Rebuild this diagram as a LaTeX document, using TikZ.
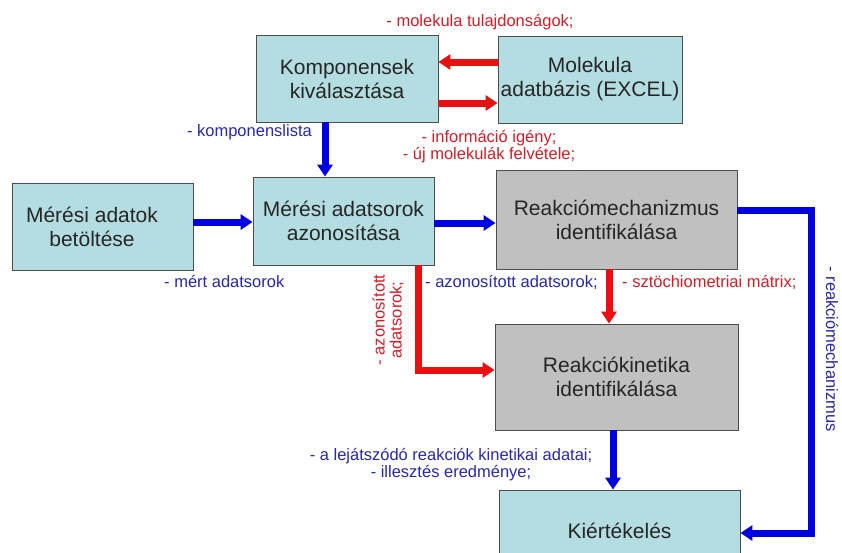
\documentclass[tikz,border=0pt]{standalone}
\usepackage{fontspec}
\setmainfont{Liberation Sans}
\usetikzlibrary{arrows.meta}
\definecolor{boxblue}{RGB}{180,221,225}
\definecolor{boxgray}{RGB}{192,192,192}
\definecolor{arrred}{RGB}{232,16,16}
\definecolor{arrblue}{RGB}{0,0,224}
\definecolor{txtred}{RGB}{214,30,40}
\definecolor{txtblue}{RGB}{40,40,176}
\tikzset{
  boxbase/.style={draw=black!70, line width=0.8pt, inner sep=0pt, align=center,
    font=\fontsize{21}{24}\selectfont, text=black!85},
  bluebox/.style={boxbase, fill=boxblue},
  graybox/.style={boxbase, fill=boxgray},
  flowred/.style={draw=arrred, line width=7pt, -{Triangle[width=15pt,length=12pt]}},
  flowblue/.style={draw=arrblue, line width=7pt, -{Triangle[width=15pt,length=12pt]}},
  lbl/.style={inner sep=0pt, align=center, font=\fontsize{16.5}{17}\selectfont},
  lblred/.style={lbl, text=txtred},
  lblblue/.style={lbl, text=txtblue}
}
\begin{document}
\begin{tikzpicture}[x=1pt,y=-1pt]
\clip (0,0) rectangle (842,552);
\fill[white] (0,0) rectangle (842,552);

% boxes
\node[bluebox, minimum width=182pt, minimum height=87pt] (komp) at (347,78.5) {Komponensek\\kiválasztása};
\node[bluebox, minimum width=184pt, minimum height=87pt] (mol) at (590,79.5) {Molekula\\adatbázis (EXCEL)};
\node[bluebox, minimum width=181pt, minimum height=87pt] (load) at (102.5,226.5) {};
\node[boxbase, draw=none, fill=none] (loadtxt) at (92,226.5) {Mérési adatok\\betöltése};
\node[bluebox, minimum width=181pt, minimum height=88pt] (ident) at (343.5,221) {Mérési adatsorok\\azonosítása};
\node[graybox, minimum width=241pt, minimum height=99pt] (mech) at (616.5,219.5) {Reakciómechanizmus\\identifikálása};
\node[graybox, minimum width=243pt, minimum height=106pt] (kin) at (616.5,377) {Reakciókinetika\\identifikálása};
\node[bluebox, minimum width=241pt, minimum height=82pt] (kiert) at (619.5,531) {Kiértékelés};

% connectors
\coordinate (c1) at (418,370);
\coordinate (c2) at (811,210);
\coordinate (c3) at (811,533);
\draw[flowred] (mol.west |- 0,62) -- (komp.east |- 0,62);
\draw[flowred] (komp.east |- 0,103) -- (mol.west |- 0,103);
\draw[flowblue] (komp.south -| 325,0) -- (ident.north -| 325,0);
\draw[flowblue] (load.east |- 0,222) -- (ident.west |- 0,222);
\draw[flowblue] (ident.east |- 0,223) -- (mech.west |- 0,223);
\draw[flowred] (mech.south -| 609,0) -- (kin.north -| 609,0);
\draw[flowred] (ident.south -| c1) -- (c1) -- (kin.west |- c1);
\draw[flowblue] (kin.south -| 613,0) -- (kiert.north -| 613,0);
\draw[flowblue] (mech.east |- c2) -- (c2) -- (c3) -- (kiert.east |- c3);

% labels
\node[lblred] (l1) at (480,22) {- molekula tulajdonságok;};
\node[lblred] (l2) at (489,147) {- információ igény;\\- új molekulák felvétele;};
\node[lblblue, anchor=east] (l3) at (312,132) {- komponenslista};
\node[lblblue, anchor=west] (l4) at (164,281) {- mért adatsorok};
\node[lblblue, anchor=west] (l5) at (425,282) {- azonosított adatsorok;};
\node[lblred, anchor=west] (l6) at (622,282) {- sztöchiometriai mátrix;};
\node[lblred, rotate=90] (l7) at (388,320) {- azonosított\\adatsorok;};
\node[lblblue, rotate=-90] (l8) at (832,349) {- reakciómechanizmus};
\node[lblblue] (l9) at (451,465) {- a lejátszódó reakciók kinetikai adatai;\\- illesztés eredménye;};
\end{tikzpicture}
\end{document}
